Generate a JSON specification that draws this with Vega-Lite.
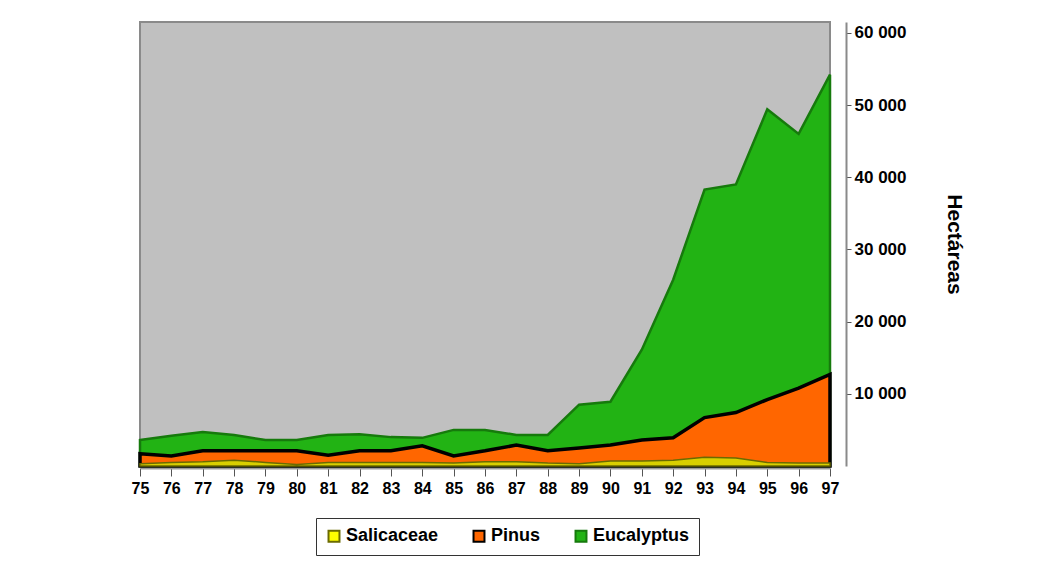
{
  "$schema": "https://vega.github.io/schema/vega-lite/v6.json",
  "width": 690,
  "height": 444,
  "padding": {"left": 131, "top": 22, "right": 10, "bottom": 5},
  "background": "white",
  "config": {
    "font": "Liberation Sans",
    "view": {"fill": "#C0C0C0", "stroke": "#8A8A8A", "strokeWidth": 2}
  },
  "data": {
    "values": [
      {"year": 75, "series": "Salicaceae", "ha": 300},
      {"year": 76, "series": "Salicaceae", "ha": 500},
      {"year": 77, "series": "Salicaceae", "ha": 600},
      {"year": 78, "series": "Salicaceae", "ha": 800},
      {"year": 79, "series": "Salicaceae", "ha": 500},
      {"year": 80, "series": "Salicaceae", "ha": 200},
      {"year": 81, "series": "Salicaceae", "ha": 500},
      {"year": 82, "series": "Salicaceae", "ha": 500},
      {"year": 83, "series": "Salicaceae", "ha": 500},
      {"year": 84, "series": "Salicaceae", "ha": 500},
      {"year": 85, "series": "Salicaceae", "ha": 400},
      {"year": 86, "series": "Salicaceae", "ha": 600},
      {"year": 87, "series": "Salicaceae", "ha": 600},
      {"year": 88, "series": "Salicaceae", "ha": 400},
      {"year": 89, "series": "Salicaceae", "ha": 300},
      {"year": 90, "series": "Salicaceae", "ha": 700},
      {"year": 91, "series": "Salicaceae", "ha": 700},
      {"year": 92, "series": "Salicaceae", "ha": 800},
      {"year": 93, "series": "Salicaceae", "ha": 1200},
      {"year": 94, "series": "Salicaceae", "ha": 1100},
      {"year": 95, "series": "Salicaceae", "ha": 500},
      {"year": 96, "series": "Salicaceae", "ha": 400},
      {"year": 97, "series": "Salicaceae", "ha": 400},
      {"year": 75, "series": "Pinus", "ha": 1700},
      {"year": 76, "series": "Pinus", "ha": 1400},
      {"year": 77, "series": "Pinus", "ha": 2100},
      {"year": 78, "series": "Pinus", "ha": 2100},
      {"year": 79, "series": "Pinus", "ha": 2100},
      {"year": 80, "series": "Pinus", "ha": 2100},
      {"year": 81, "series": "Pinus", "ha": 1500},
      {"year": 82, "series": "Pinus", "ha": 2100},
      {"year": 83, "series": "Pinus", "ha": 2100},
      {"year": 84, "series": "Pinus", "ha": 2800},
      {"year": 85, "series": "Pinus", "ha": 1400},
      {"year": 86, "series": "Pinus", "ha": 2100},
      {"year": 87, "series": "Pinus", "ha": 2900},
      {"year": 88, "series": "Pinus", "ha": 2100},
      {"year": 89, "series": "Pinus", "ha": 2500},
      {"year": 90, "series": "Pinus", "ha": 2900},
      {"year": 91, "series": "Pinus", "ha": 3600},
      {"year": 92, "series": "Pinus", "ha": 3900},
      {"year": 93, "series": "Pinus", "ha": 6700},
      {"year": 94, "series": "Pinus", "ha": 7400},
      {"year": 95, "series": "Pinus", "ha": 9200},
      {"year": 96, "series": "Pinus", "ha": 10800},
      {"year": 97, "series": "Pinus", "ha": 12700},
      {"year": 75, "series": "Eucalyptus", "ha": 3600},
      {"year": 76, "series": "Eucalyptus", "ha": 4200},
      {"year": 77, "series": "Eucalyptus", "ha": 4700},
      {"year": 78, "series": "Eucalyptus", "ha": 4300},
      {"year": 79, "series": "Eucalyptus", "ha": 3600},
      {"year": 80, "series": "Eucalyptus", "ha": 3600},
      {"year": 81, "series": "Eucalyptus", "ha": 4300},
      {"year": 82, "series": "Eucalyptus", "ha": 4400},
      {"year": 83, "series": "Eucalyptus", "ha": 4000},
      {"year": 84, "series": "Eucalyptus", "ha": 3900},
      {"year": 85, "series": "Eucalyptus", "ha": 5000},
      {"year": 86, "series": "Eucalyptus", "ha": 5000},
      {"year": 87, "series": "Eucalyptus", "ha": 4300},
      {"year": 88, "series": "Eucalyptus", "ha": 4300},
      {"year": 89, "series": "Eucalyptus", "ha": 8500},
      {"year": 90, "series": "Eucalyptus", "ha": 8900},
      {"year": 91, "series": "Eucalyptus", "ha": 16100},
      {"year": 92, "series": "Eucalyptus", "ha": 25800},
      {"year": 93, "series": "Eucalyptus", "ha": 38300},
      {"year": 94, "series": "Eucalyptus", "ha": 39000},
      {"year": 95, "series": "Eucalyptus", "ha": 49400},
      {"year": 96, "series": "Eucalyptus", "ha": 46000},
      {"year": 97, "series": "Eucalyptus", "ha": 54200}
    ]
  },
  "encoding": {
    "x": {
      "field": "year",
      "type": "quantitative",
      "scale": {"domain": [75, 97], "nice": false, "zero": false},
      "axis": {
        "title": null,
        "values": [75, 76, 77, 78, 79, 80, 81, 82, 83, 84, 85, 86, 87, 88, 89, 90, 91, 92, 93, 94, 95, 96, 97],
        "format": "d",
        "grid": false,
        "offset": 2,
        "tickSize": 8,
        "tickColor": "#555555",
        "domainColor": "#9A9A9A",
        "domainWidth": 2,
        "labelPadding": 4,
        "labelFlush": false,
        "labelBound": false,
        "labelFont": "Liberation Sans",
        "labelFontSize": 16,
        "labelFontWeight": "bold",
        "labelColor": "black",
        "labelOverlap": false
      }
    },
    "y": {
      "field": "ha",
      "type": "quantitative",
      "scale": {"domain": [0, 61500], "nice": false},
      "axis": {
        "orient": "right",
        "title": "Hectáreas",
        "titleFont": "Liberation Sans",
        "titleFontSize": 21,
        "titleFontWeight": "bold",
        "titleColor": "black",
        "titlePadding": 38,
        "values": [10000, 20000, 30000, 40000, 50000, 60000],
        "labelExpr": "replace(format(datum.value, ',d'), ',', ' ')",
        "grid": false,
        "offset": 16,
        "tickSize": 5,
        "tickColor": "#555555",
        "domainColor": "#8A8A8A",
        "domainWidth": 2,
        "labelPadding": 3,
        "labelFont": "Liberation Sans",
        "labelFontSize": 17,
        "labelFontWeight": "bold",
        "labelColor": "black"
      }
    },
    "color": {
      "field": "series",
      "type": "nominal",
      "scale": {
        "domain": ["Salicaceae", "Pinus", "Eucalyptus"],
        "range": ["#FFFF00", "#FF6600", "#22B314"]
      },
      "legend": {
        "title": null,
        "orient": "none",
        "direction": "horizontal",
        "legendX": 176,
        "legendY": 496,
        "symbolType": "square",
        "symbolSize": 120,
        "symbolStrokeWidth": 2,
        "labelFont": "Liberation Sans",
        "labelFontSize": 18,
        "labelFontWeight": "bold",
        "labelColor": "black",
        "labelOffset": 3,
        "columnPadding": 30,
        "padding": 9,
        "strokeColor": "#333333",
        "fillColor": "white"
      }
    },
    "stroke": {
      "field": "series",
      "type": "nominal",
      "scale": {
        "domain": ["Salicaceae", "Pinus", "Eucalyptus"],
        "range": ["#6B6B00", "#000000", "#167A0C"]
      },
      "legend": null
    }
  },
  "layer": [
    {
      "transform": [{"filter": "datum.series === 'Eucalyptus'"}],
      "mark": {"type": "area", "strokeWidth": 2.5, "fillOpacity": 1}
    },
    {
      "transform": [{"filter": "datum.series === 'Pinus'"}],
      "mark": {"type": "area", "strokeWidth": 3.5, "fillOpacity": 1}
    },
    {
      "transform": [{"filter": "datum.series === 'Salicaceae'"}],
      "mark": {"type": "area", "strokeWidth": 1.5, "fillOpacity": 1, "fill": "#D8CF00"}
    }
  ]
}
